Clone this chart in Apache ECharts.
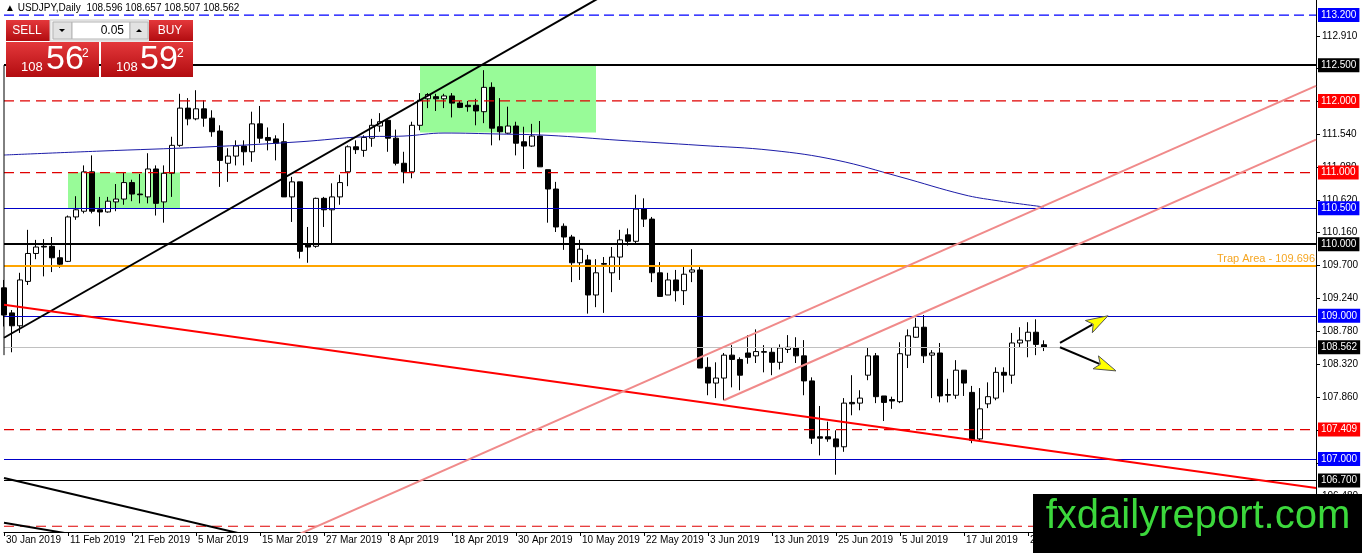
<!DOCTYPE html>
<html>
<head>
<meta charset="utf-8">
<title>USDJPY Daily</title>
<script src="https://cdn.jsdelivr.net/npm/echarts@6/dist/echarts.min.js"></script>
<style>
  html, body { margin: 0; padding: 0; background: #fff; }
  #chart { width: 1362px; height: 553px; }
</style>
</head>
<body>
<div id="chart"></div>
<script>
// daily bars from 30 Jan 2019, weekdays only
var opens = [
  109.39, 109.04, 108.86, 109.48, 109.87, 109.97, 109.97, 109.81, 109.76, 110.38,
  110.46, 111.01, 110.48, 110.45, 110.59, 110.63, 110.86, 110.70, 110.66, 111.05,
  110.59, 110.99, 111.38, 111.90, 111.75, 111.89, 111.76, 111.58, 111.13, 111.23,
  111.37, 111.29, 111.68, 111.49, 111.47, 111.43, 110.66, 110.87, 109.99, 109.97,
  110.64, 110.48, 110.66, 111.01, 111.36, 111.31, 111.48, 111.65, 111.73, 111.48,
  111.13, 111.01, 111.66, 112.03, 112.06, 112.03, 112.07, 111.97, 111.94, 111.94,
  111.85, 112.19, 111.64, 111.55, 111.65, 111.43, 111.37, 111.51, 111.04, 110.77,
  110.25, 110.10, 109.74, 109.78, 109.29, 109.73, 109.60, 109.82, 110.13, 110.04,
  110.49, 110.35, 109.60, 109.29, 109.50, 109.35, 109.61, 109.64, 108.28, 108.06,
  108.13, 108.45, 108.39, 108.48, 108.44, 108.49, 108.49, 108.35, 108.53, 108.55,
  108.44, 108.09, 107.31, 107.31, 107.28, 107.17, 107.79, 107.78, 108.17, 108.44,
  107.88, 107.83, 107.80, 108.45, 108.70, 108.84, 108.45, 108.48, 107.90, 107.89,
  108.24, 107.93, 107.28, 107.77, 107.85, 108.21, 108.17, 108.62, 108.65, 108.77,
  108.596
];
var highs = [
  109.50, 109.08, 109.60, 110.20, 110.06, 110.07, 110.10, 109.92, 110.40, 110.67,
  111.10, 111.24, 110.66, 110.66, 110.84, 111.00, 110.90, 110.98, 111.27, 111.10,
  111.10, 111.50, 112.10, 112.04, 112.15, 112.01, 111.87, 111.66, 111.34, 111.45,
  111.45, 111.85, 111.93, 111.63, 111.52, 111.69, 110.94, 110.87, 110.24, 110.65,
  110.66, 110.85, 110.97, 111.38, 111.45, 111.52, 111.75, 111.83, 111.76, 111.60,
  111.29, 111.71, 112.11, 112.11, 112.10, 112.10, 112.11, 112.00, 112.00, 112.03,
  112.43, 112.26, 112.04, 111.92, 111.71, 111.64, 111.68, 111.72, 111.04, 110.87,
  110.29, 110.13, 110.06, 109.85, 109.79, 109.82, 109.96, 110.20, 110.22, 110.69,
  110.64, 110.38, 109.75, 109.60, 109.64, 109.69, 109.93, 109.68, 108.42, 108.35,
  108.48, 108.59, 108.42, 108.73, 108.81, 108.59, 108.56, 108.60, 108.73, 108.70,
  108.66, 108.14, 107.74, 107.52, 107.40, 107.85, 108.17, 107.96, 108.55, 108.48,
  107.88, 107.87, 108.63, 108.81, 108.97, 109.01, 108.52, 108.62, 108.12, 108.38,
  108.24, 108.02, 107.99, 108.07, 108.28, 108.28, 108.76, 108.84, 108.91, 108.95,
  108.657
];
var lows = [
  108.85, 108.49, 108.76, 109.43, 109.79, 109.55, 109.61, 109.67, 109.75, 110.34,
  110.43, 110.43, 110.25, 110.44, 110.46, 110.55, 110.60, 110.57, 110.57, 110.40,
  110.30, 110.66, 111.36, 111.66, 111.73, 111.64, 111.50, 110.80, 110.87, 111.10,
  111.10, 111.15, 111.41, 111.31, 111.17, 110.66, 110.31, 109.80, 109.74, 109.95,
  110.24, 110.00, 110.55, 110.81, 111.26, 111.22, 111.36, 111.57, 111.29, 111.10,
  110.85, 110.92, 111.59, 111.90, 111.86, 111.90, 111.77, 111.90, 111.85, 111.66,
  111.69, 111.38, 111.45, 111.54, 111.24, 111.05, 111.36, 111.08, 110.30, 110.17,
  109.92, 109.47, 109.50, 109.03, 109.12, 109.04, 109.33, 109.50, 109.98, 109.99,
  110.24, 109.47, 109.27, 109.29, 109.20, 109.15, 109.47, 108.27, 107.89, 107.85,
  107.82, 108.00, 107.96, 108.33, 108.34, 108.21, 108.17, 108.25, 108.48, 108.34,
  107.89, 107.21, 107.05, 107.24, 106.78, 107.10, 107.61, 107.68, 108.10, 107.78,
  107.53, 107.70, 107.78, 108.27, 108.69, 108.34, 107.85, 107.79, 107.79, 107.84,
  107.88, 107.22, 107.24, 107.71, 107.82, 107.93, 108.05, 108.56, 108.42, 108.45,
  108.507
];
var closes = [
  109.01, 108.86, 109.50, 109.87, 109.96, 109.96, 109.81, 109.72, 110.38, 110.48,
  111.01, 110.46, 110.45, 110.60, 110.63, 110.86, 110.70, 110.69, 111.05, 110.57,
  110.99, 111.38, 111.90, 111.75, 111.89, 111.76, 111.57, 111.17, 111.23, 111.37,
  111.29, 111.68, 111.48, 111.45, 111.41, 110.66, 110.87, 109.90, 109.96, 110.64,
  110.48, 110.66, 110.86, 111.36, 111.32, 111.49, 111.66, 111.71, 111.48, 111.13,
  111.01, 111.66, 112.01, 112.09, 112.03, 112.07, 111.97, 111.91, 111.92, 111.86,
  112.19, 111.62, 111.57, 111.65, 111.41, 111.37, 111.51, 111.08, 110.77, 110.24,
  110.10, 109.74, 109.93, 109.29, 109.60, 109.72, 109.82, 110.06, 110.04, 110.49,
  110.35, 109.60, 109.27, 109.50, 109.35, 109.58, 109.64, 108.27, 108.06, 108.13,
  108.45, 108.39, 108.17, 108.42, 108.50, 108.50, 108.35, 108.55, 108.56, 108.44,
  108.09, 107.29, 107.29, 107.28, 107.17, 107.78, 107.77, 107.85, 108.44, 107.87,
  107.79, 107.81, 108.47, 108.72, 108.84, 108.44, 108.48, 107.88, 107.89, 108.24,
  108.06, 107.26, 107.70, 107.87, 108.21, 108.17, 108.62, 108.66, 108.77, 108.60,
  108.562
];
var askPrice = 108.592;

// 200-day moving average, read at a few bars
var maBars   = [0, 12, 25, 37, 45, 50, 55, 62, 68, 77, 87, 96, 104, 112, 120, 124, 130];
var maValues = [111.245, 111.30, 111.356, 111.43, 111.50, 111.51, 111.552, 111.538, 111.52, 111.45,
                111.38, 111.31, 111.175, 110.94, 110.69, 110.61, 110.52];

// horizontal levels
var levelPrices = [113.2, 112.5, 112.0, 111.0, 110.5, 110.0, 109.696, 109.0, 108.562, 107.409, 107.0, 106.7, 106.06];

// trend lines: [bar, price] end points
var blackTrend = [[0, 108.693], [80, 113.797]];
var lowerBlack1 = [[0, 106.734], [30, 105.946]];
var lowerBlack2 = [[0, 106.11], [10, 105.92]];
var redTrend = [[0, 109.155], [164, 106.594]];
var pinkTrendA = [[30, 105.61], [164, 112.21]];
var pinkTrendB = [[90, 107.82], [164, 111.46]];
var edgeLine = [[0, 112.5], [0, 108.45]];

// zones: [barFrom, barTo, priceTop, priceBottom]
var greenBoxes = [[7.9, 21.9, 111.0, 110.5], [51.9, 73.9, 112.5, 111.56]];
// arrows: [barFrom, priceFrom, barTo, priceTo]
var arrows = [[131.9, 108.62, 138.3, 109.0], [131.75, 108.56, 139.0, 108.23]];

var yTicks = [106.48, 106.94, 107.40, 107.86, 108.32, 108.78, 109.24, 109.70, 110.16, 110.62, 111.08, 111.54, 112.00, 112.45, 112.91];
var yMin = 105.98, yMax = 113.41;

var monthNames = ['Jan', 'Feb', 'Mar', 'Apr', 'May', 'Jun', 'Jul', 'Aug', 'Sep', 'Oct', 'Nov', 'Dec'];
var slotCount = 165;

// weekday calendar for the bars, empty slots for the shifted area
var dates = [];
var d = new Date(2019, 0, 30);
while (dates.length < closes.length) {
  if (d.getDay() !== 0 && d.getDay() !== 6) {
    dates.push(d.getDate() + ' ' + monthNames[d.getMonth()] + ' ' + d.getFullYear());
  }
  d.setDate(d.getDate() + 1);
}
var slots = dates.slice();
while (slots.length < slotCount) slots.push('');

var candleData = closes.map(function (c, i) {
  return [opens[i], c, lows[i], highs[i]];
});

var FONT = '"Liberation Sans", Arial, sans-serif';

var levelLook = [
  { line: '#0000ff', dash: [10, 5], width: 1.2, bg: '#0000ff' },
  { line: '#000000', width: 2, bg: '#000000' },
  { line: '#e00000', dash: [10, 6], width: 1.2, bg: '#ff0000' },
  { line: '#e00000', dash: [10, 6], width: 1.2, bg: '#ff0000' },
  { line: '#0000c8', width: 1, bg: '#0000ff' },
  { line: '#000000', width: 2, bg: '#000000' },
  { line: '#ffa500', width: 2, bg: null, text: 'Trap Area - ' },
  { line: '#0000c8', width: 1, bg: '#0000ff' },
  { line: '#c0c0c0', width: 1, bg: '#000000' },
  { line: '#e00000', dash: [10, 6], width: 1.2, bg: '#ff0000' },
  { line: '#0000c8', width: 1, bg: '#0000ff' },
  { line: '#000000', width: 1, bg: '#000000' },
  { line: '#e00000', dash: [10, 6], width: 1.2, bg: '#ff0000' }
];

// solid levels and all price tags come from markLine; dashed levels get their own line series
var levelMarks = levelPrices.map(function (p, i) {
  var look = levelLook[i];
  var label;
  if (look.bg) {
    label = {
      show: true, position: 'end', distance: 2, formatter: p.toFixed(3),
      color: '#fff', backgroundColor: look.bg, padding: [1, 3, 1, 3],
      fontSize: 10, fontFamily: FONT, lineHeight: 12
    };
  } else {
    label = {
      show: true, position: 'insideEndTop', distance: 1, formatter: look.text + p.toFixed(3),
      color: '#f5a623', fontSize: 11, fontFamily: FONT
    };
  }
  var lineStyle = look.dash
    ? { color: 'transparent', width: 1, type: 'solid' }
    : { color: look.line, width: look.width, type: 'solid' };
  return { yAxis: p, lineStyle: lineStyle, label: label };
});

var dashedSeries = [];
levelPrices.forEach(function (p, i) {
  var look = levelLook[i];
  if (!look.dash) return;
  dashedSeries.push({
    type: 'line', name: 'level ' + p, data: [[0, p], [slotCount - 1, p]],
    symbol: 'none', silent: true, z: 5,
    lineStyle: { color: look.line, type: look.dash, width: look.width }
  });
});

function trendSeries(points, color, width) {
  return {
    type: 'line', data: points, symbol: 'none', silent: true, z: 6, clip: true,
    lineStyle: { color: color, width: width }
  };
}

function redFill() {
  return new echarts.graphic.LinearGradient(0, 0, 0, 1, [
    { offset: 0, color: '#e4383b' }, { offset: 1, color: '#b20c10' }
  ]);
}

var bidStr = closes[closes.length - 1].toFixed(3);
var askStr = askPrice.toFixed(3);
var last = closes.length - 1;
var header = '\u25B2 USDJPY,Daily  ' + opens[last].toFixed(3) + ' ' + highs[last].toFixed(3) + ' ' +
  lows[last].toFixed(3) + ' ' + closes[last].toFixed(3);

var option = {
  animation: false,
  backgroundColor: '#fff',
  textStyle: { fontFamily: FONT },
  grid: { left: 4, right: 46, top: 0, bottom: 21 },
  xAxis: {
    type: 'category', data: slots, boundaryGap: false,
    axisLine: { onZero: false, lineStyle: { color: '#000', width: 1 } },
    axisTick: { interval: 7, length: 4, lineStyle: { color: '#000' } },
    axisLabel: { interval: 7, align: 'left', margin: 3, color: '#000', fontSize: 10, padding: [0, 0, 0, 2] },
    splitLine: { show: false }
  },
  yAxis: {
    type: 'value', position: 'right', min: yMin, max: yMax, scale: true,
    axisLine: { show: true, lineStyle: { color: '#000' } },
    axisTick: { show: true, length: 4, customValues: yTicks, lineStyle: { color: '#000' } },
    axisLabel: {
      customValues: yTicks, color: '#000', fontSize: 10, margin: 6,
      formatter: function (v) { return v.toFixed(3); }
    },
    splitLine: { show: false }
  },
  series: [
    {
      type: 'custom', name: 'zones', z: 1, silent: true,
      data: greenBoxes.map(function (b) { return [b[0], b[2]]; }),
      renderItem: function (params, api) {
        var b = greenBoxes[params.dataIndex];
        var p0 = api.coord([b[0], b[2]]);
        var p1 = api.coord([b[1], b[3]]);
        return {
          type: 'rect',
          shape: { x: p0[0], y: p0[1], width: p1[0] - p0[0], height: p1[1] - p0[1] },
          style: { fill: '#98fb98' }
        };
      }
    },
    {
      type: 'candlestick', name: 'USDJPY', data: candleData, z: 3, barWidth: 5, silent: true,
      itemStyle: { color: '#fff', color0: '#000', borderColor: '#000', borderColor0: '#000', borderWidth: 1 }
    },
    {
      type: 'line', name: 'MA', data: maBars.map(function (b, i) { return [b, maValues[i]]; }),
      smooth: 0.4, symbol: 'none', silent: true, z: 4,
      lineStyle: { color: '#1c1ca8', width: 1 }
    },
    {
      type: 'line', name: 'levels', data: [], z: 5, silent: true,
      markLine: { silent: true, symbol: ['none', 'none'], animation: false, data: levelMarks }
    }
  ].concat(dashedSeries).concat([
    trendSeries(blackTrend, '#000', 2),
    trendSeries(lowerBlack1, '#000', 2),
    trendSeries(lowerBlack2, '#000', 2),
    trendSeries(edgeLine, '#000', 1),
    trendSeries(redTrend, '#ff0000', 2),
    trendSeries(pinkTrendA, '#f08a8a', 2),
    trendSeries(pinkTrendB, '#f08a8a', 2),
    {
      type: 'custom', name: 'arrows', z: 7, silent: true,
      data: arrows.map(function (a) { return [a[0], a[1]]; }),
      renderItem: function (params, api) {
        var a = arrows[params.dataIndex];
        var s = api.coord([a[0], a[1]]);
        var e = api.coord([a[2], a[3]]);
        var dx = e[0] - s[0], dy = e[1] - s[1];
        var len = Math.sqrt(dx * dx + dy * dy);
        var ux = dx / len, uy = dy / len;
        var L = 22, W = 7;
        var bx = e[0] - ux * L, by = e[1] - uy * L;
        return {
          type: 'group',
          children: [
            { type: 'line', shape: { x1: s[0], y1: s[1], x2: bx + ux * 4, y2: by + uy * 4 }, style: { stroke: '#000', lineWidth: 2 } },
            {
              type: 'polygon',
              shape: { points: [[e[0], e[1]], [bx - uy * W, by + ux * W], [bx + ux * 5, by + uy * 5], [bx + uy * W, by - ux * W]] },
              style: { fill: '#ffff00', stroke: '#555', lineWidth: 1 }
            }
          ]
        };
      }
    }
  ]),
  graphic: [
    { type: 'text', z: 100, left: 5, top: 3, style: { text: header, fill: '#000', font: '10px ' + FONT } },
    // one-click trading panel
    { type: 'rect', z: 100, shape: { x: 6, y: 20, width: 44, height: 21 }, style: { fill: redFill() } },
    { type: 'text', z: 101, x: 27, y: 31, style: { text: 'SELL', fill: '#fff', font: '12px ' + FONT, align: 'center', verticalAlign: 'middle' } },
    { type: 'rect', z: 100, shape: { x: 50, y: 20, width: 99, height: 21 }, style: { fill: '#efefef', stroke: '#cfcfcf' } },
    { type: 'rect', z: 101, shape: { x: 53, y: 22, width: 19, height: 17 }, style: { fill: '#e2e2e2', stroke: '#b4b4b4' } },
    { type: 'polygon', z: 102, shape: { points: [[59, 29], [65, 29], [62, 32]] }, style: { fill: '#000' } },
    { type: 'rect', z: 101, shape: { x: 72, y: 22, width: 58, height: 17 }, style: { fill: '#fff', stroke: '#b4b4b4' } },
    { type: 'text', z: 102, x: 124, y: 31, style: { text: '0.05', fill: '#000', font: '12px ' + FONT, align: 'right', verticalAlign: 'middle' } },
    { type: 'rect', z: 101, shape: { x: 130, y: 22, width: 18, height: 17 }, style: { fill: '#e2e2e2', stroke: '#b4b4b4' } },
    { type: 'polygon', z: 102, shape: { points: [[136, 32], [142, 32], [139, 29]] }, style: { fill: '#000' } },
    { type: 'rect', z: 100, shape: { x: 149, y: 20, width: 44, height: 21 }, style: { fill: redFill() } },
    { type: 'text', z: 101, x: 170, y: 31, style: { text: 'BUY', fill: '#fff', font: '12px ' + FONT, align: 'center', verticalAlign: 'middle' } },
    { type: 'rect', z: 100, shape: { x: 6, y: 42, width: 93, height: 35 }, style: { fill: redFill() } },
    { type: 'rect', z: 100, shape: { x: 101, y: 42, width: 92, height: 35 }, style: { fill: redFill() } },
    { type: 'text', z: 101, x: 21, y: 67, style: { text: bidStr.slice(0, 3), fill: '#fff', font: '13px ' + FONT, verticalAlign: 'middle' } },
    { type: 'text', z: 101, x: 46, y: 60, style: { text: bidStr.slice(4, 6), fill: '#fff', font: '34px ' + FONT, verticalAlign: 'middle' } },
    { type: 'text', z: 101, x: 82, y: 54, style: { text: bidStr.slice(6, 7), fill: '#fff', font: '12px ' + FONT, verticalAlign: 'middle' } },
    { type: 'text', z: 101, x: 116, y: 67, style: { text: askStr.slice(0, 3), fill: '#fff', font: '13px ' + FONT, verticalAlign: 'middle' } },
    { type: 'text', z: 101, x: 140, y: 60, style: { text: askStr.slice(4, 6), fill: '#fff', font: '34px ' + FONT, verticalAlign: 'middle' } },
    { type: 'text', z: 101, x: 177, y: 54, style: { text: askStr.slice(6, 7), fill: '#fff', font: '12px ' + FONT, verticalAlign: 'middle' } },
    // watermark
    { type: 'rect', z: 100, shape: { x: 1033, y: 494, width: 329, height: 59 }, style: { fill: '#000' } },
    { type: 'text', z: 101, x: 1198, y: 517, style: { text: 'fxdailyreport.com', fill: '#3cd83c', font: '40px ' + FONT, align: 'center', verticalAlign: 'middle' } }
  ]
};

var chart = echarts.init(document.getElementById('chart'));
chart.setOption(option);
</script>
</body>
</html>
